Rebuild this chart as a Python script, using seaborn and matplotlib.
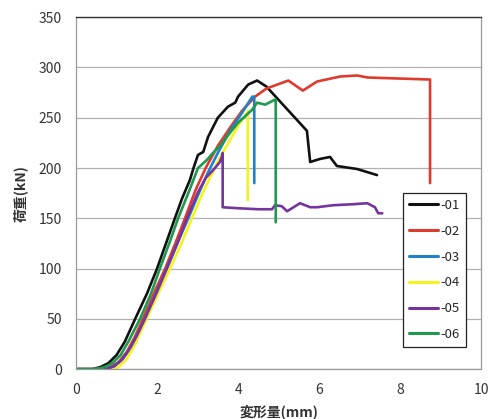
import matplotlib
matplotlib.use("Agg")
import matplotlib.pyplot as plt
import pandas as pd
import seaborn as sns

sns.set_style("white")
plt.rcParams['font.family'] = ['Noto Sans CJK JP', 'DejaVu Sans']

# load-displacement curves
x01 = [0, 0.4, 0.6, 0.8, 1.0, 1.2, 1.46, 1.75, 2.0, 2.22, 2.44, 2.62, 2.81, 2.9, 3.01, 3.14,
       3.26, 3.5, 3.75, 3.93, 4.0, 4.25, 4.47, 4.7, 5.2, 5.7, 5.78, 6.02, 6.27, 6.44, 6.94, 7.43]
y01 = [0, 0, 2, 6, 14, 27, 50, 75, 100, 125, 150, 170, 188, 200, 213, 216,
       231, 250, 261, 265, 271, 283, 287, 281, 259, 237, 206, 209, 211, 202, 199, 193]

x02 = [0, 0.6, 0.85, 1.05, 1.25, 1.45, 1.65, 1.95, 2.2, 2.45, 2.69, 2.95, 3.2, 3.5, 3.8, 4.1,
       4.42, 4.7, 5.24, 5.6, 5.95, 6.52, 6.94, 7.2, 8.74, 8.74]
y02 = [0, 0, 2, 7, 17, 32, 50, 78, 100, 125, 150, 178, 200, 222, 240, 257,
       271, 279, 287, 277, 286, 291, 292, 290, 288, 185]

x03 = [0, 0.7, 0.9, 1.1, 1.3, 1.5, 1.7, 2.0, 2.24, 2.5, 2.77, 3.0, 3.25, 3.5, 3.8, 4.1, 4.35, 4.4, 4.4]
y03 = [0, 0, 2, 8, 18, 33, 50, 78, 100, 125, 150, 172, 195, 215, 237, 255, 271, 271, 185]

x04 = [0, 0.9, 1.05, 1.25, 1.45, 1.74, 2.05, 2.32, 2.6, 2.86, 3.06, 3.3, 3.55, 3.8, 4.05, 4.22, 4.24, 4.24]
y04 = [0, 0, 2, 10, 24, 50, 77, 100, 125, 150, 169, 190, 210, 228, 245, 255, 257, 168]

x05 = [0, 0.75, 0.95, 1.15, 1.35, 1.5, 1.7, 2.0, 2.24, 2.5, 2.74, 3.0, 3.2, 3.43, 3.55, 3.6,
       3.62, 3.62, 4.0, 4.5, 4.84, 4.91, 5.08, 5.21, 5.53, 5.78, 5.95, 6.35, 6.84, 7.19, 7.38, 7.46, 7.56]
y05 = [0, 0, 3, 10, 22, 33, 50, 77, 100, 125, 150, 175, 190, 200, 206, 211,
       215, 161, 160, 159, 159, 163, 162, 157, 165, 161, 161, 163, 164, 165, 161, 155, 155]

x06 = [0, 0.5, 0.7, 0.9, 1.1, 1.3, 1.58, 1.85, 2.07, 2.3, 2.52, 2.8, 3.01, 3.23, 3.38, 3.56,
       3.72, 4.0, 4.35, 4.47, 4.67, 4.91, 4.93, 4.93]
y06 = [0, 0, 2, 6, 14, 28, 50, 75, 100, 125, 150, 178, 200, 208, 215, 222,
       231, 245, 258, 265, 263, 268, 268, 146]

labels = ["-01", "-02", "-03", "-04", "-05", "-06"]
xs = [x01, x02, x03, x04, x05, x06]
ys = [y01, y02, y03, y04, y05, y06]
colors = ["#111111", "#e03a2e", "#1f82c8", "#f4f41c", "#7535a0", "#1e9a4e"]

frames = []
for lab, xv, yv in zip(labels, xs, ys):
    frames.append(pd.DataFrame({"x": xv, "y": yv, "name": lab}))
df = pd.concat(frames, ignore_index=True)

fig = plt.figure(figsize=(4.97, 4.19), dpi=100)
ax = fig.add_axes([0.153, 0.119, 0.815, 0.840])

# sort=False keeps the vertical drops in the order they were drawn
sns.lineplot(data=df, x="x", y="y", hue="name", palette=colors,
             sort=False, estimator=None, linewidth=1.9, ax=ax)

ax.set_xlim(0, 10)
ax.set_ylim(0, 350)
ax.set_xticks([0, 2, 4, 6, 8, 10])
ax.set_yticks(range(0, 351, 50))
ax.yaxis.grid(True, color="#b0b0b0", linewidth=0.9)
ax.set_axisbelow(True)
ax.tick_params(axis="both", length=0, labelsize=10, labelcolor="#333333")
ax.tick_params(axis="x", pad=10)
ax.tick_params(axis="y", pad=10)
for s in ["left", "right", "bottom"]:
    ax.spines[s].set_color("#9a9a9a")
    ax.spines[s].set_linewidth(0.9)
ax.spines["top"].set_color("#333333")
ax.spines["top"].set_linewidth(1.0)

ax.set_xlabel("変形量(mm)", fontsize=10, fontweight="bold", color="#333333", labelpad=5)
ax.set_ylabel("荷重(kN)", fontsize=10, fontweight="bold", color="#333333", labelpad=8)

leg = ax.legend(loc="upper left", bbox_to_anchor=(0.807, 0.5), fontsize=9.5,
                frameon=True, fancybox=False, edgecolor="#222222", framealpha=1,
                handlelength=2.2, handletextpad=0.2, labelspacing=0.97,
                borderpad=0.45, borderaxespad=0)
leg.get_frame().set_linewidth(0.9)
for h in leg.get_lines():
    h.set_linewidth(2.2)

plt.savefig("out.png", dpi=100)
